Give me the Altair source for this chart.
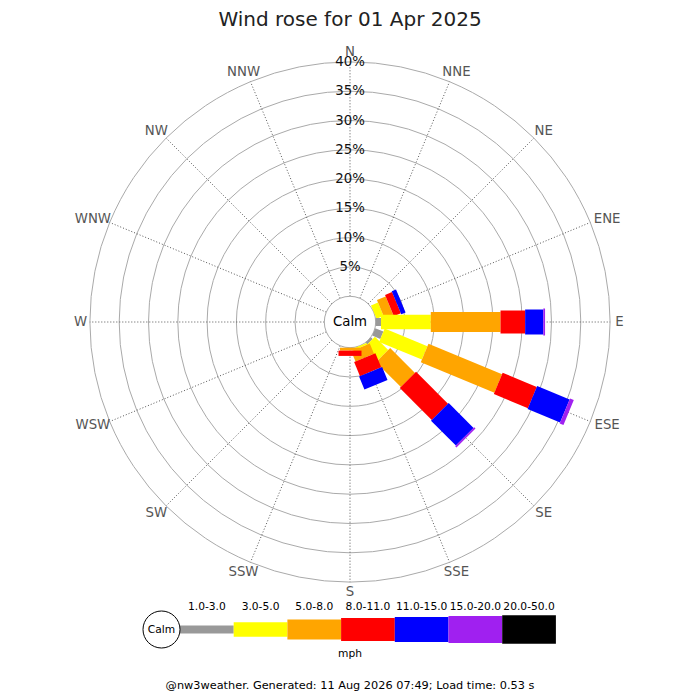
import altair as alt
import pandas as pd

# ---------------- data ----------------
directions = ["N", "NNE", "NE", "ENE", "E", "ESE", "SE", "SSE",
              "S", "SSW", "SW", "WSW", "W", "WNW", "NW", "NNW"]
speed_bins = ["1.0-3.0", "3.0-5.0", "5.0-8.0", "8.0-11.0",
              "11.0-15.0", "15.0-20.0", "20.0-50.0"]
# percentage of time per direction, one list per speed band (mph)
pct_1_3   = [0, 0, 0, 0.0, 0.9, 1.5, 0.4, 0.0, 0.0, 0, 0, 0, 0, 0, 0, 0]
pct_3_5   = [0, 0, 0, 1.3, 8.5, 7.9, 3.2, 0.3, 0.0, 0, 0, 0, 0, 0, 0, 0]
pct_5_8   = [0, 0, 0, 1.6, 11.9, 13.6, 6.0, 1.9, 0.5, 0, 0, 0, 0, 0, 0, 0]
pct_8_11  = [0, 0, 0, 1.3, 4.2, 6.3, 7.7, 2.6, 0.9, 0, 0, 0, 0, 0, 0, 0]
pct_11_15 = [0, 0, 0, 0.8, 3.1, 6.0, 6.0, 2.4, 0.0, 0, 0, 0, 0, 0, 0, 0]
pct_15_20 = [0, 0, 0, 0.0, 0.3, 0.7, 0.3, 0.0, 0.0, 0, 0, 0, 0, 0, 0, 0]
pct_20_50 = [0, 0, 0, 0.0, 0.0, 0.0, 0.0, 0.0, 0.0, 0, 0, 0, 0, 0, 0, 0]
ring_ticks = [5, 10, 15, 20, 25, 30, 35, 40]
title_text = "Wind rose for 01 Apr 2025"
unit_text = "mph"
calm_text = "Calm"
footer_text = "@nw3weather. Generated: 11 Aug 2026 07:49; Load time: 0.53 s"

series = [pct_1_3, pct_3_5, pct_5_8, pct_8_11, pct_11_15, pct_15_20, pct_20_50]
rows = []
for ci, (cls, vals) in enumerate(zip(speed_bins, series)):
    for di, (d, v) in enumerate(zip(directions, vals)):
        rows.append({"dir": d, "di": di, "cls": cls, "ci": ci, "pct": v})
bars_df = pd.DataFrame(rows)
dirs_df = pd.DataFrame({"dir": directions, "di": list(range(len(directions)))})
rings_df = pd.DataFrame({"p": ring_ticks})
bins_df = pd.DataFrame({"cls": speed_bins, "ci": list(range(len(speed_bins)))})

# ---------------- style ----------------
COLORS = ["#999999", "#ffff00", "#ffa500", "#ff0000", "#0000ff", "#a020f0", "#000000"]
WIDTHS = "[8, 14.5, 20, 23, 25, 27, 28.5]"
R0 = 25.7      # calm circle radius (px)
K = 5.86       # px per percent
RMAX = 40
FONT = "DejaVu Sans"

W = H = 684
X = alt.Scale(domain=[-342, 342], nice=False, zero=False)
Y = alt.Scale(domain=[-370, 314], nice=False, zero=False)
colscale = alt.Scale(domain=speed_bins, range=COLORS)


def xy(fx="x", fy="y"):
    return dict(x=alt.X(f"{fx}:Q", scale=X, axis=None),
                y=alt.Y(f"{fy}:Q", scale=Y, axis=None))


rings = alt.Chart(rings_df).transform_calculate(
    r=f"{R0} + {K} * datum.p", x="0", y="0"
).transform_calculate(s="pow(2 * datum.r, 2)").mark_point(
    shape="circle", filled=False, color="#aaaaaa", strokeWidth=1, opacity=1
).encode(**xy(), size=alt.Size("s:Q", scale=None))

calm = alt.Chart(pd.DataFrame({"p": [0]})).transform_calculate(
    x="0", y="0", s=f"pow(2 * {R0}, 2)"
).mark_point(shape="circle", filled=True, fill="white", stroke="#aaaaaa",
             strokeWidth=1, opacity=1).encode(**xy(), size=alt.Size("s:Q", scale=None))

spokes = alt.Chart(dirs_df).transform_calculate(
    a="datum.di * PI / 8"
).transform_calculate(
    x=f"{R0} * sin(datum.a)", y=f"{R0} * cos(datum.a)",
    x2=f"{R0 + K * RMAX} * sin(datum.a)", y2=f"{R0 + K * RMAX} * cos(datum.a)"
).mark_rule(color="#555555", strokeWidth=1, strokeDash=[1, 2]).encode(
    **xy(), x2="x2:Q", y2="y2:Q")

bars = alt.Chart(bars_df).transform_window(
    cum="sum(pct)", groupby=["dir"], sort=[alt.SortField("ci", order="ascending")],
    frame=[None, 0]
).transform_filter("datum.pct > 0").transform_calculate(
    a="datum.di * PI / 8",
    r0=f"{R0} + {K} * (datum.cum - datum.pct)",
    r1=f"{R0} + {K} * datum.cum",
    sw=f"{WIDTHS}[datum.ci]"
).transform_calculate(
    x="datum.r0 * sin(datum.a)", y="datum.r0 * cos(datum.a)",
    x2="datum.r1 * sin(datum.a)", y2="datum.r1 * cos(datum.a)"
).mark_rule(strokeCap="butt").encode(
    **xy(), x2="x2:Q", y2="y2:Q",
    color=alt.Color("cls:N", scale=colscale, legend=None),
    strokeWidth=alt.StrokeWidth("sw:Q", scale=None),
    order=alt.Order("di:Q"))

pct_labels = alt.Chart(rings_df).transform_calculate(
    x="0", y=f"{R0} + {K} * datum.p", t="datum.p + '%'"
).mark_text(font=FONT, fontSize=13.3, color="#111111", align="center",
            baseline="middle").encode(**xy(), text="t:N")

dir_labels = alt.Chart(dirs_df).transform_calculate(
    a="datum.di * PI / 8"
).transform_calculate(
    x=f"({R0 + K * RMAX} + length(datum.dir) * 4.4 + 5) * sin(datum.a)",
    y=f"({R0 + K * RMAX} + 10) * cos(datum.a)"
).mark_text(font=FONT, fontSize=13.3, color="#555555", align="center",
            baseline="middle").encode(**xy(), text="dir:N")

calm_label = alt.Chart(pd.DataFrame({"t": [calm_text]})).transform_calculate(
    x="0", y="0").mark_text(font=FONT, fontSize=13.3, color="#000000",
                            baseline="middle").encode(**xy(), text="t:N")

# ---------------- legend ----------------
LX0, LW, LY = -170, 53.7, -307.5
leg_calm = alt.Chart(pd.DataFrame({"p": [0]})).transform_calculate(
    x=f"{LX0} - 18.5", y=f"{LY}", s="pow(37, 2)"
).mark_point(shape="circle", filled=True, fill="white", stroke="#000000",
             strokeWidth=1, opacity=1).encode(**xy(), size=alt.Size("s:Q", scale=None))

leg_calm_txt = alt.Chart(pd.DataFrame({"t": [calm_text]})).transform_calculate(
    x=f"{LX0} - 18.5", y=f"{LY}").mark_text(
    font=FONT, fontSize=10.7, color="#000000", baseline="middle").encode(**xy(), text="t:N")

leg_bars = alt.Chart(bins_df).transform_calculate(
    x=f"{LX0} + {LW} * datum.ci", x2=f"{LX0} + {LW} * (datum.ci + 1)", y=f"{LY}",
    sw=f"{WIDTHS}[datum.ci]"
).mark_rule(strokeCap="butt").encode(
    **xy(), x2="x2:Q",
    color=alt.Color("cls:N", scale=colscale, legend=None),
    strokeWidth=alt.StrokeWidth("sw:Q", scale=None))

leg_labels = alt.Chart(bins_df).transform_calculate(
    x=f"{LX0} + {LW} * (datum.ci + 0.5)", y="-285"
).mark_text(font=FONT, fontSize=10.7, color="#000000", baseline="middle").encode(
    **xy(), text="cls:N")

unit_label = alt.Chart(pd.DataFrame({"t": [unit_text]})).transform_calculate(
    x="0", y="-332").mark_text(font=FONT, fontSize=10.7, color="#000000",
                               baseline="middle").encode(**xy(), text="t:N")

footer = alt.Chart(pd.DataFrame({"t": [footer_text]})).transform_calculate(
    x="0", y="-363.5").mark_text(font=FONT, fontSize=11.3, color="#000000",
                                 baseline="middle").encode(**xy(), text="t:N")

title = alt.Chart(pd.DataFrame({"t": [title_text]})).mark_text(
    font=FONT, fontSize=20, color="#222222", baseline="alphabetic", align="center"
).encode(x=alt.value(342), y=alt.value(18), text="t:N")

chart = alt.layer(
    rings, spokes, calm, bars, pct_labels, dir_labels, calm_label,
    leg_bars, leg_calm, leg_calm_txt, leg_labels, unit_label, footer, title
).properties(
    width=W, height=H, autosize=alt.AutoSizeParams(type="none"), padding=0,
    background="white"
).configure_view(stroke=None)

chart.save("out.html", embed_options={"renderer": "svg", "actions": False})
